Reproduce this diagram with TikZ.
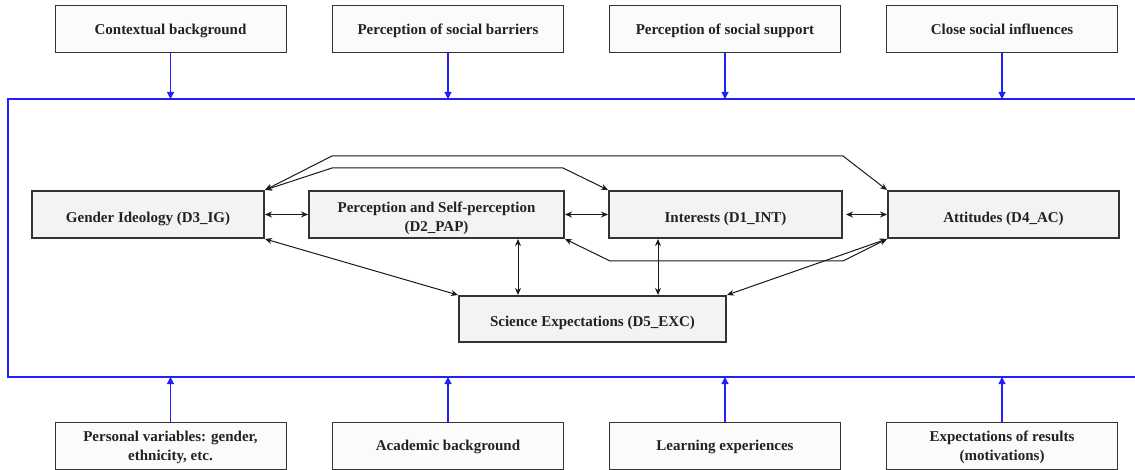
\documentclass[tikz,border=0pt]{standalone}
\usepackage{fontspec}
\setmainfont{Liberation Serif}
\usetikzlibrary{arrows.meta}
\definecolor{boxline}{HTML}{333333}
\definecolor{mainfill}{HTML}{F3F3F3}
\definecolor{outfill}{HTML}{FBFBFB}
\definecolor{txt}{HTML}{222222}
\definecolor{frameblue}{HTML}{2020FF}
\newcommand{\bt}[2]{\raisebox{#1}[0pt][0pt]{\begin{tabular}{@{}c@{}}#2\end{tabular}}}
\tikzset{
  outbox/.style={draw=boxline, line width=1pt, fill=outfill, minimum width=231pt, minimum height=47pt, inner sep=2pt, align=center, text=txt, font=\fontsize{15}{19.5}\selectfont\bfseries},
  mainbox/.style={draw=boxline, line width=2pt, fill=mainfill, minimum height=47pt, inner sep=2pt, align=center, text=txt, font=\fontsize{15}{19}\selectfont\bfseries},
  conn/.style={draw=black!90, line width=1pt, {Stealth[length=7pt,width=6pt]}-{Stealth[length=7pt,width=6pt]}},
  bluearr/.style={draw=frameblue, line width=1.1pt, -{Triangle[length=7pt,width=7pt]}},
  frameline/.style={draw=frameblue, line width=1.1pt}
}
\begin{document}
\begin{tikzpicture}[x=1pt,y=-1pt]
\useasboundingbox (0,0) rectangle (1135,470);
% frame
\coordinate (ftr) at (1136,99);
\coordinate (ftl) at (8,99);
\coordinate (fbl) at (8,377);
\coordinate (fbr) at (1136,377);
\draw[frameline] (ftr) -- (ftl) -- (fbl) -- (fbr);
% top boxes
\node[outbox] (t1) at (170.5,29.5) {\bt{-4.5pt}{Contextual background}};
\node[outbox] (t2) at (448,29.5) {\bt{-4.5pt}{Perception of social barriers}};
\node[outbox] (t3) at (725,29.5) {\bt{-4.5pt}{Perception of social support}};
\node[outbox] (t4) at (1002,29.5) {\bt{-4.5pt}{Close social influences}};
% bottom boxes
\node[outbox] (b1) at (170.5,445.5) {\bt{-5pt}{Personal variables: gender,\\ethnicity, etc.}};
\node[outbox] (b2) at (448,445.5) {\bt{-4.5pt}{Academic background}};
\node[outbox] (b3) at (725,445.5) {\bt{-4.5pt}{Learning experiences}};
\node[outbox] (b4) at (1002,445.5) {\bt{-5pt}{Expectations of results\\(motivations)}};
% blue arrows
\foreach \n in {t1,t2,t3,t4} \draw[bluearr] (\n.south) -- (\n.south |- ftl);
\foreach \n in {b1,b2,b3,b4} \draw[bluearr] (\n.north) -- (\n.north |- fbl);
% main boxes
\node[mainbox, minimum width=232pt] (GI) at (148,214.5) {\bt{-7.5pt}{Gender Ideology (D3\_IG)}};
\node[mainbox, minimum width=255pt] (PAP) at (436.5,214.5) {\bt{-7pt}{Perception and Self-perception\\(D2\_PAP)}};
\node[mainbox, minimum width=233pt] (INT) at (725.5,214.5) {\bt{-7.5pt}{Interests (D1\_INT)}};
\node[mainbox, minimum width=231pt] (ATT) at (1003.5,214.5) {\bt{-7.5pt}{Attitudes (D4\_AC)}};
\node[mainbox, minimum width=267pt, minimum height=46pt] (SCI) at (592.5,319) {\bt{-7.5pt}{Science Expectations (D5\_EXC)}};
% waypoints
\coordinate (u1) at (332,156);
\coordinate (u2) at (843,156);
\coordinate (v1) at (332,168);
\coordinate (v2) at (563,168);
\coordinate (w1) at (610,261);
\coordinate (w2) at (843,261);
\coordinate (xp) at (518,0);
\coordinate (xi) at (658,0);
% connectors
\draw[conn] (GI.east) -- (PAP.west);
\draw[conn] (PAP.east) -- (INT.west);
\draw[conn] ([xshift=3pt]INT.east) -- (ATT.west);
\draw[conn] (GI.north east) -- (u1) -- (u2) -- (ATT.north west);
\draw[conn] (GI.north east) -- (v1) -- (v2) -- (INT.north west);
\draw[conn] (PAP.south east) -- (w1) -- (w2) -- (ATT.south west);
\draw[conn] (ATT.south west) -- (SCI.north east);
\draw[conn] (GI.south east) -- (SCI.north west);
\draw[conn] (xp |- PAP.south) -- (xp |- SCI.north);
\draw[conn] (xi |- INT.south) -- (xi |- SCI.north);
\end{tikzpicture}
\end{document}
